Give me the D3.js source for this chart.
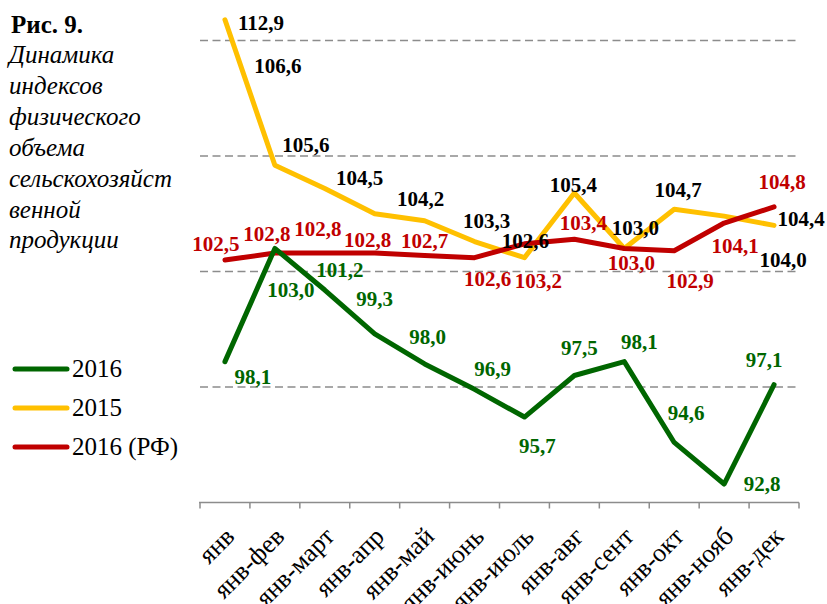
<!DOCTYPE html>
<html>
<head>
<meta charset="utf-8">
<script src="https://d3js.org/d3.v7.min.js"></script>
<style>
  body { margin: 0; background: #fff; }
</style>
</head>
<body>
<svg id="chart" width="827" height="604"></svg>
<script>
// categories and values
var months = ["янв", "янв-фев", "янв-март", "янв-апр", "янв-май", "янв-июнь",
  "янв-июль", "янв-авг", "янв-сент", "янв-окт", "янв-нояб", "янв-дек"];
var vals2016 = [98.1, 103.0, 101.2, 99.3, 98.0, 96.9, 95.7, 97.5, 98.1, 94.6, 92.8, 97.1];
var vals2015 = [112.9, 106.6, 105.6, 104.5, 104.2, 103.3, 102.6, 105.4, 103.0, 104.7, 104.4, 104.0];
var valsRF = [102.5, 102.8, 102.8, 102.8, 102.7, 102.6, 103.2, 103.4, 103.0, 102.9, 104.1, 104.8];
var yTicks = [92, 97, 102, 107, 112];

// label placement (px offset from the point), moved by hand like in excel
var off2016 = [[28, 22], [16, 49], [15, -13], [0, -28], [3, -20], [18, -13],
  [13, 36], [5, -20], [15, -13], [12, -22], [38, 7], [-10, -18]];
var off2015 = [[36, 10], [3, -92], [-19, -36], [-15, -29], [-4, -15], [12, -14],
  [1, -10], [-1, -1], [11, -13], [4, -12], [77, 10], [9, 42]];
var offRF = [[-9, -9], [-8, -12], [-7, -17], [-7, -6], [0, -7], [13, 28],
  [14, 44], [9, -9], [7, 22], [16, 37], [11, 30], [8, -18]];

var FONT = "'Liberation Serif'";
var svg = d3.select("#chart");

var x = d3.scaleBand().domain(months).range([200, 799]);
var y = d3.scaleLinear().domain([92, 113]).range([502.5, 17.5]);
var cx = function (m) { return x(m) + x.bandwidth() / 2; };

// gridlines
svg.selectAll("line.grid")
  .data(yTicks.slice(1))
  .enter()
  .append("line")
  .attr("class", "grid")
  .attr("x1", 200).attr("x2", 800)
  .attr("y1", d => y(d)).attr("y2", d => y(d))
  .style("stroke", "#8c8c8c")
  .style("stroke-width", 1.5)
  .style("stroke-dasharray", "8,4.5");

// x axis line and ticks on band edges
svg.append("line")
  .attr("x1", 199).attr("x2", 799)
  .attr("y1", y(92)).attr("y2", y(92))
  .style("stroke", "#8c8c8c").style("stroke-width", 1.5);

var edges = months.map(m => x(m)).concat([x.range()[1]]);
svg.selectAll("line.tick")
  .data(edges)
  .enter()
  .append("line")
  .attr("class", "tick")
  .attr("x1", d => d).attr("x2", d => d)
  .attr("y1", y(92)).attr("y2", y(92) + 6)
  .style("stroke", "#8c8c8c").style("stroke-width", 1.5);

svg.selectAll("text.cat")
  .data(months)
  .enter()
  .append("text")
  .attr("class", "cat")
  .attr("text-anchor", "end")
  .attr("transform", d => "translate(" + (cx(d) + 11) + "," + 538 + ") rotate(-45)")
  .style("font-family", FONT)
  .style("font-size", "26px")
  .text(d => d);

// lines
var line = d3.line()
  .x((d, i) => cx(months[i]))
  .y(d => y(d));

var series = [
  { name: "2015", vals: vals2015, color: "#ffc000", label: "#000000", off: off2015 },
  { name: "2016 (РФ)", vals: valsRF, color: "#c00000", label: "#c00000", off: offRF },
  { name: "2016", vals: vals2016, color: "#006600", label: "#006600", off: off2016 }
];

series.forEach(function (s) {
  svg.append("path")
    .datum(s.vals)
    .attr("d", line)
    .style("fill", "none")
    .style("stroke", s.color)
    .style("stroke-width", 5)
    .style("stroke-linejoin", "round")
    .style("stroke-linecap", "round");
});

series.forEach(function (s) {
  svg.selectAll(null)
    .data(s.vals)
    .enter()
    .append("text")
    .attr("x", (d, i) => cx(months[i]) + s.off[i][0])
    .attr("y", (d, i) => y(d) + s.off[i][1])
    .attr("text-anchor", "middle")
    .style("font-family", FONT)
    .style("font-size", "21px")
    .style("font-weight", "bold")
    .style("fill", s.label)
    .text(d => d.toFixed(1).replace(".", ","));
});

// title block
svg.append("text")
  .attr("x", 11).attr("y", 33)
  .style("font-family", FONT)
  .style("font-size", "25px")
  .style("font-weight", "bold")
  .text("Рис. 9.");

var titleLines = ["Динамика", "индексов", "физического", "объема",
  "сельскохозяйст", "венной", "продукции"];
svg.selectAll("text.ttl")
  .data(titleLines)
  .enter()
  .append("text")
  .attr("class", "ttl")
  .attr("x", 9)
  .attr("y", (d, i) => 63 + i * 30.9)
  .style("font-family", FONT)
  .style("font-size", "25px")
  .style("font-style", "italic")
  .text(d => d);

// legend
var legend = [
  { name: "2016", color: "#006600" },
  { name: "2015", color: "#ffc000" },
  { name: "2016 (РФ)", color: "#c00000" }
];
var lg = svg.selectAll("g.lg")
  .data(legend)
  .enter()
  .append("g")
  .attr("class", "lg")
  .attr("transform", (d, i) => "translate(0," + (369 + i * 39) + ")");
lg.append("line")
  .attr("x1", 15).attr("x2", 67)
  .attr("y1", 0).attr("y2", 0)
  .style("stroke", d => d.color)
  .style("stroke-width", 5)
  .style("stroke-linecap", "round");
lg.append("text")
  .attr("x", 72).attr("y", 8)
  .style("font-family", FONT)
  .style("font-size", "25px")
  .text(d => d.name);
</script>
</body>
</html>
